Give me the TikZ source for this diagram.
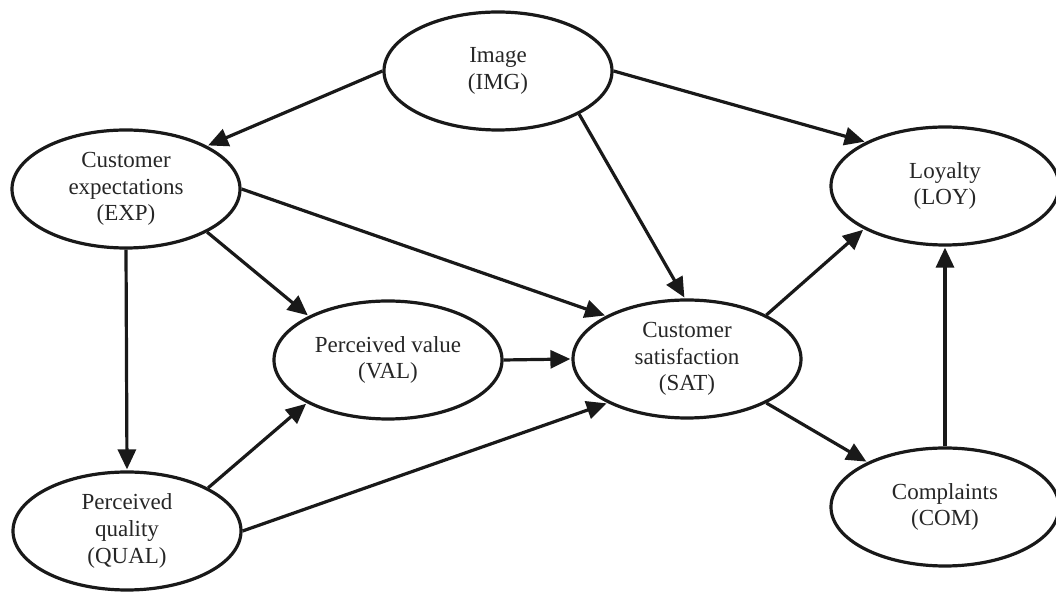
\documentclass[tikz,border=0pt]{standalone}
\usepackage{fontspec}
\setmainfont{Liberation Serif}
\usetikzlibrary{shapes.geometric,arrows.meta}
\begin{document}
\begin{tikzpicture}[x=0.5pt,y=-0.5pt,
  construct/.style={draw=black!90,line width=1.6pt,ellipse,minimum width=114pt,minimum height=59pt,inner sep=0pt,align=center,font=\fontsize{11.5pt}{13.4pt}\selectfont,text=black!85},
  link/.style={line width=1.6pt,draw=black!90,-{Triangle[length=10pt,width=9pt]},shorten >=0.5pt}]
\useasboundingbox (0,0) rectangle (1056,592);
\node[construct] (IMG) at (498,71) {Image\\(IMG)};
\node[construct] (EXP) at (126,189) {Customer\\expectations\\(EXP)};
\node[construct] (VAL) at (388,360) {Perceived value\\(VAL)};
\node[construct] (SAT) at (687,359) {Customer\\satisfaction\\(SAT)};
\node[construct] (LOY) at (945,186) {Loyalty\\(LOY)};
\node[construct] (COM) at (945,507) {Complaints\\(COM)};
\node[construct] (QUAL) at (127,531) {Perceived\\quality\\(QUAL)};
\draw[link] (IMG.west) -- (EXP.28);
\draw[link] (IMG.east) -- (LOY.151);
\draw[link] (IMG.-28) -- (SAT.92);
\draw[link] (EXP.east) -- (SAT.152);
\draw[link] (EXP.-28) -- (VAL.151);
\draw[link] (EXP.south) -- (QUAL.north);
\draw[link] (QUAL.28) -- (VAL.208);
\draw[link] (QUAL.east) -- (SAT.209);
\draw[link] (VAL.east) -- (SAT.west);
\draw[link] (SAT.29) -- (LOY.208);
\draw[link] (SAT.-29) -- (COM.150);
\draw[link] (COM.north) -- (LOY.south);
\end{tikzpicture}
\end{document}
